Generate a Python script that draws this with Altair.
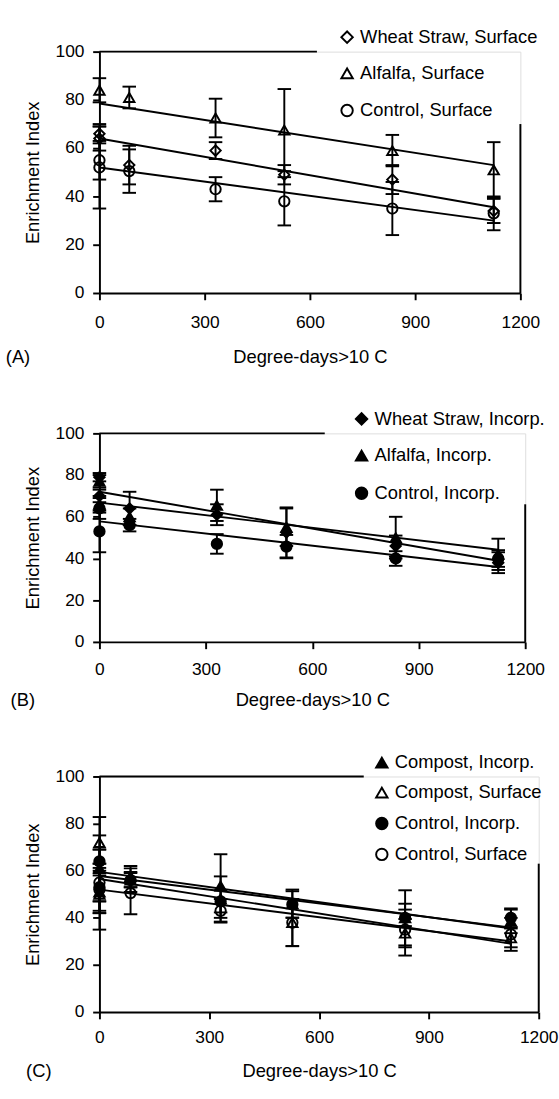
import altair as alt
import pandas as pd

FONT = "Liberation Sans"

# Sampling dates (degree-days > 10 C); two samplings at day zero
x_days = [0, 0, 85, 331, 527, 835, 1124]

# ---------- Panel A : surface residues ----------
wheat_surf = [66, 64, 53, 59, 49, 47, 34]
wheat_surf_err = [4, 5, 8, 3.5, 4, 6, 5]
alfalfa_surf = [84, None, 81, 72.5, 67.5, 59, 51]
alfalfa_surf_err = [5, None, 4.5, 8, 17, 6.5, 11.5]
control_surf = [55, 52, 50.5, 43, 38, 35, 33]
control_surf_err = [8, 17, 9, 5, 10, 11, 7]

# ---------- Panel B : incorporated residues ----------
wheat_inc = [79, 70, 64, 61, 52.5, 46, 38]
wheat_inc_err = [2, 3, 8, 5, 12, 5, 5]
alfalfa_inc = [77, 66, 60, 65.5, 55, 50, 42]
alfalfa_inc_err = [3, 4, 4, 7.5, 9, 10, 7.5]
control_inc = [64, 53, 56, 47, 45.7, 40, 40]
control_inc_err = [5, 10, 3, 4.7, 5.6, 3.5, 4]

# ---------- Panel C : compost ----------
compost_inc = [61, 51, 57.5, 53.5, 46, 40, 38.5]
compost_inc_err = [14, 9, 4.5, 13.5, 6, 11.7, 5]
compost_surf = [72, 50, 56, 48, 38, 33.5, 31.5]
compost_surf_err = [10.8, 8, 5, 9.6, 10, 6, 4]

# Fitted regression lines: value at start and end of fit range
fit_x = [0, 1124]
fit_wheat_surf = [64, 35.5]
fit_alfalfa_surf = [78.5, 53]
fit_control_surf = [52, 30]
fit_wheat_inc = [72, 38.9]
fit_alfalfa_inc = [66.8, 44.2]
fit_control_inc = [57.8, 35.9]
fit_compost_inc = [59.5, 35.5]
fit_compost_surf = [56.5, 29]

x_ticks = [0, 300, 600, 900, 1200]
y_ticks = [0, 20, 40, 60, 80, 100]


def make_axis_x(label_pad, title_pad):
    return alt.Axis(values=x_ticks, format="d", title="Degree-days>10 C", grid=False,
                    domainColor="black", domainWidth=2, tickColor="black",
                    tickWidth=2, tickSize=7, labelFont=FONT, labelFontSize=18,
                    labelColor="black", labelPadding=label_pad, titleFont=FONT,
                    titleFontSize=19, titleFontWeight="normal", titleColor="black",
                    titlePadding=title_pad, labelFlush=False)


def make_axis_y():
    return alt.Axis(values=y_ticks, format="d", title="Enrichment Index", grid=False,
                    domainColor="black", domainWidth=2, tickColor="black",
                    tickWidth=2, tickSize=7, labelFont=FONT, labelFontSize=18,
                    labelColor="black", labelPadding=9, titleFont=FONT,
                    titleFontSize=19, titleFontWeight="normal", titleColor="black",
                    titlePadding=13, labelFlush=False)


def panel(series, label, w, h, leg_x, leg_y, row_pad, top_end, right_top,
          label_dx, label_pad, title_center):
    rows, fit_rows = [], []
    for name, ys, es, shape, filled, fit in series:
        for xv, yv, ev in zip(x_days, ys, es):
            if yv is None:
                continue
            rows.append(dict(series=name, x=xv, y=yv, lo=yv - ev, hi=yv + ev))
        for xv, yv in zip(fit_x, fit):
            fit_rows.append(dict(series=name, x=xv, y=yv))
    df = pd.DataFrame(rows)
    fdf = pd.DataFrame(fit_rows)
    names = [s[0] for s in series]
    shapes = [s[3] for s in series]
    fills = ["black" if s[4] else "transparent" for s in series]
    strokes = ["black" for s in series]

    title_pad = title_center - 9.5 - (7 + label_pad + 18)
    xs = alt.Scale(domain=[0, 1200], nice=False, zero=False)
    ys = alt.Scale(domain=[0, 100], nice=False)
    ax, ay = make_axis_x(label_pad, title_pad), make_axis_y()
    X = lambda f: alt.X(f, type="quantitative", scale=xs, axis=ax)
    Y = lambda f: alt.Y(f, type="quantitative", scale=ys, axis=ay)

    base = alt.Chart(df)
    bars = base.mark_rule(color="black", strokeWidth=2).encode(
        x=X("x"), y=Y("lo"), y2="hi:Q")
    cap_lo = base.mark_tick(orient="horizontal", color="black", thickness=2,
                            size=14, opacity=1).encode(x=X("x"), y=Y("lo"))
    cap_hi = base.mark_tick(orient="horizontal", color="black", thickness=2,
                            size=14, opacity=1).encode(x=X("x"), y=Y("hi"))
    lines = alt.Chart(fdf).mark_line(color="black", strokeWidth=2).encode(
        x=X("x"), y=Y("y"), detail="series:N")

    frame_df = pd.DataFrame({"x": [0, 1200], "x2": [top_end, 1200],
                             "y": [100, 0], "y2": [100, right_top]})
    frame = alt.Chart(frame_df).mark_rule(color="black", strokeWidth=2).encode(
        x=X("x"), x2="x2:Q", y=Y("y"), y2="y2:Q")

    leg = alt.Legend(orient="none", legendX=leg_x, legendY=leg_y, title=None,
                     direction="vertical", labelFont=FONT, labelFontSize=19,
                     labelColor="black", labelLimit=400, symbolSize=140,
                     symbolStrokeWidth=2, symbolOpacity=1,
                     rowPadding=row_pad, labelOffset=4, padding=0)
    pts = base.mark_point(strokeWidth=2, opacity=1, size=115).encode(
        x=X("x"), y=Y("y"),
        shape=alt.Shape("series:N", scale=alt.Scale(domain=names, range=shapes), legend=leg),
        fill=alt.Fill("series:N", scale=alt.Scale(domain=names, range=fills), legend=leg),
        stroke=alt.Stroke("series:N", scale=alt.Scale(domain=names, range=strokes), legend=leg),
    )
    lab = alt.Chart(pd.DataFrame({"t": [label]})).mark_text(
        align="left", baseline="middle", font=FONT, fontSize=19, color="black"
    ).encode(text="t:N", x=alt.value(label_dx), y=alt.value(h + title_center))

    return alt.layer(bars, cap_lo, cap_hi, lines, frame, pts, lab).properties(
        width=w, height=h)


panel_a = panel([
    ("Wheat Straw, Surface", wheat_surf, wheat_surf_err, "diamond", False, fit_wheat_surf),
    ("Alfalfa, Surface", alfalfa_surf, alfalfa_surf_err, "triangle-up", False, fit_alfalfa_surf),
    ("Control, Surface", control_surf, control_surf_err, "circle", False, fit_control_surf),
], "(A)", 436, 250, 247, -24.5, 17.5, 620, 70, -97, 15, 66)

panel_b = panel([
    ("Wheat Straw, Incorp.", wheat_inc, wheat_inc_err, "diamond", True, fit_wheat_inc),
    ("Alfalfa, Incorp.", alfalfa_inc, alfalfa_inc_err, "triangle-up", True, fit_alfalfa_inc),
    ("Control, Incorp.", control_inc, control_inc_err, "circle", True, fit_control_inc),
], "(B)", 441, 216, 262, -24.5, 18, 635, 66, -92, 12.5, 60)

panel_c = panel([
    ("Compost, Incorp.", compost_inc, compost_inc_err, "triangle-up", True, fit_compost_inc),
    ("Compost, Surface", compost_surf, compost_surf_err, "triangle-up", False, fit_compost_surf),
    ("Control, Incorp.", control_inc, control_inc_err, "circle", True, fit_control_inc),
    ("Control, Surface", control_surf, control_surf_err, "circle", False, fit_control_surf),
], "(C)", 455, 244, 283, -23.8, 11, 722, 63, -76, 11, 61)

chart = alt.concat(panel_a, panel_b, panel_c, columns=1, spacing=43.4).properties(
    align="none",
    padding={"left": 5, "top": 8.8, "right": 0, "bottom": 0},
).resolve_scale(
    x="independent", y="independent", shape="independent",
    fill="independent", stroke="independent"
).resolve_legend(
    shape="independent", fill="independent", stroke="independent"
).configure_view(stroke=None).configure(background="white")

chart.save("out.html", embed_options={"renderer": "svg", "actions": False})
